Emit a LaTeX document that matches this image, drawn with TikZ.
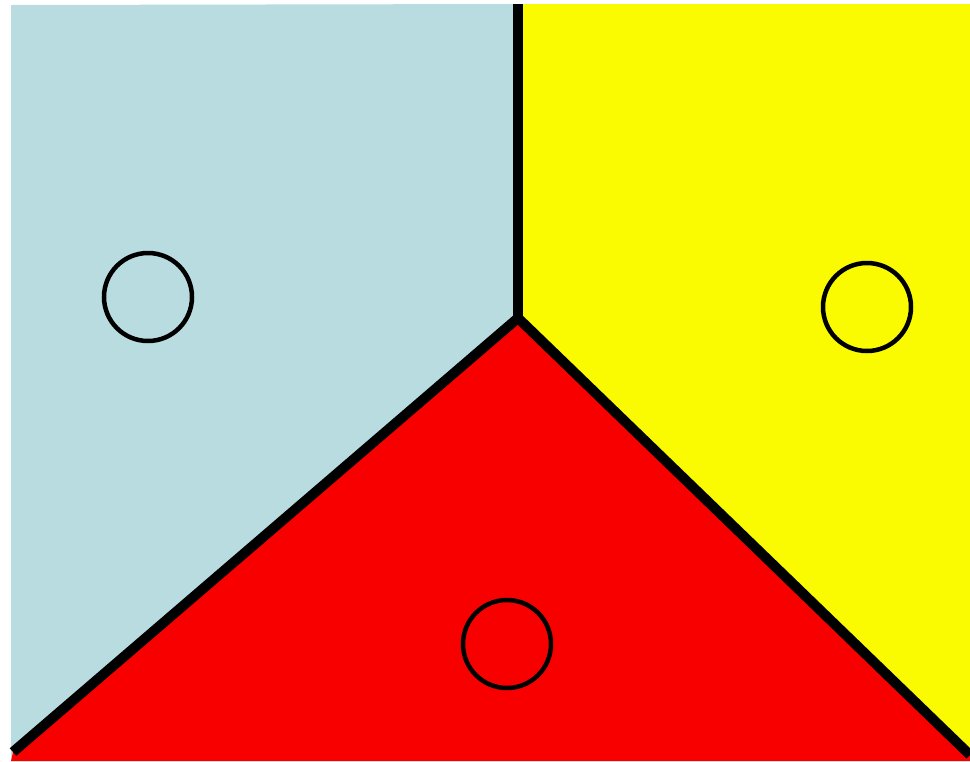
\documentclass[tikz,border=0pt]{standalone}
\definecolor{cblue}{HTML}{B9DCE0}
\definecolor{cyellow}{HTML}{FAFA00}
\definecolor{cred}{HTML}{F80000}
\tikzset{border/.style={line width=10pt,draw=black},site/.style={circle,draw=black,line width=4.5pt,minimum size=88pt,inner sep=0pt}}
\begin{document}
\begin{tikzpicture}[x=1pt,y=-1pt]
\useasboundingbox (0,0) rectangle (970,761);
\coordinate (v) at (518,318);
\coordinate (t) at (518,4);
\coordinate (bl) at (13,752);
\coordinate (br) at (970,755);
\fill[cblue] (11,5) -- (t) -- (v) -- (bl) -- (11,761) -- cycle;
\fill[cyellow] (t) -- (970,4) -- (br) -- (v) -- cycle;
\fill[cred] (v) -- (br) -- (970,761) -- (11,761) -- (bl) -- cycle;
\draw[border] (t) -- (v);
\draw[border] (v) -- (bl);
\draw[border] (v) -- (br);
\node[site] (a) at (148,297) {};
\node[site] (b) at (867,307) {};
\node[site] (c) at (507,644) {};
\end{tikzpicture}
\end{document}
